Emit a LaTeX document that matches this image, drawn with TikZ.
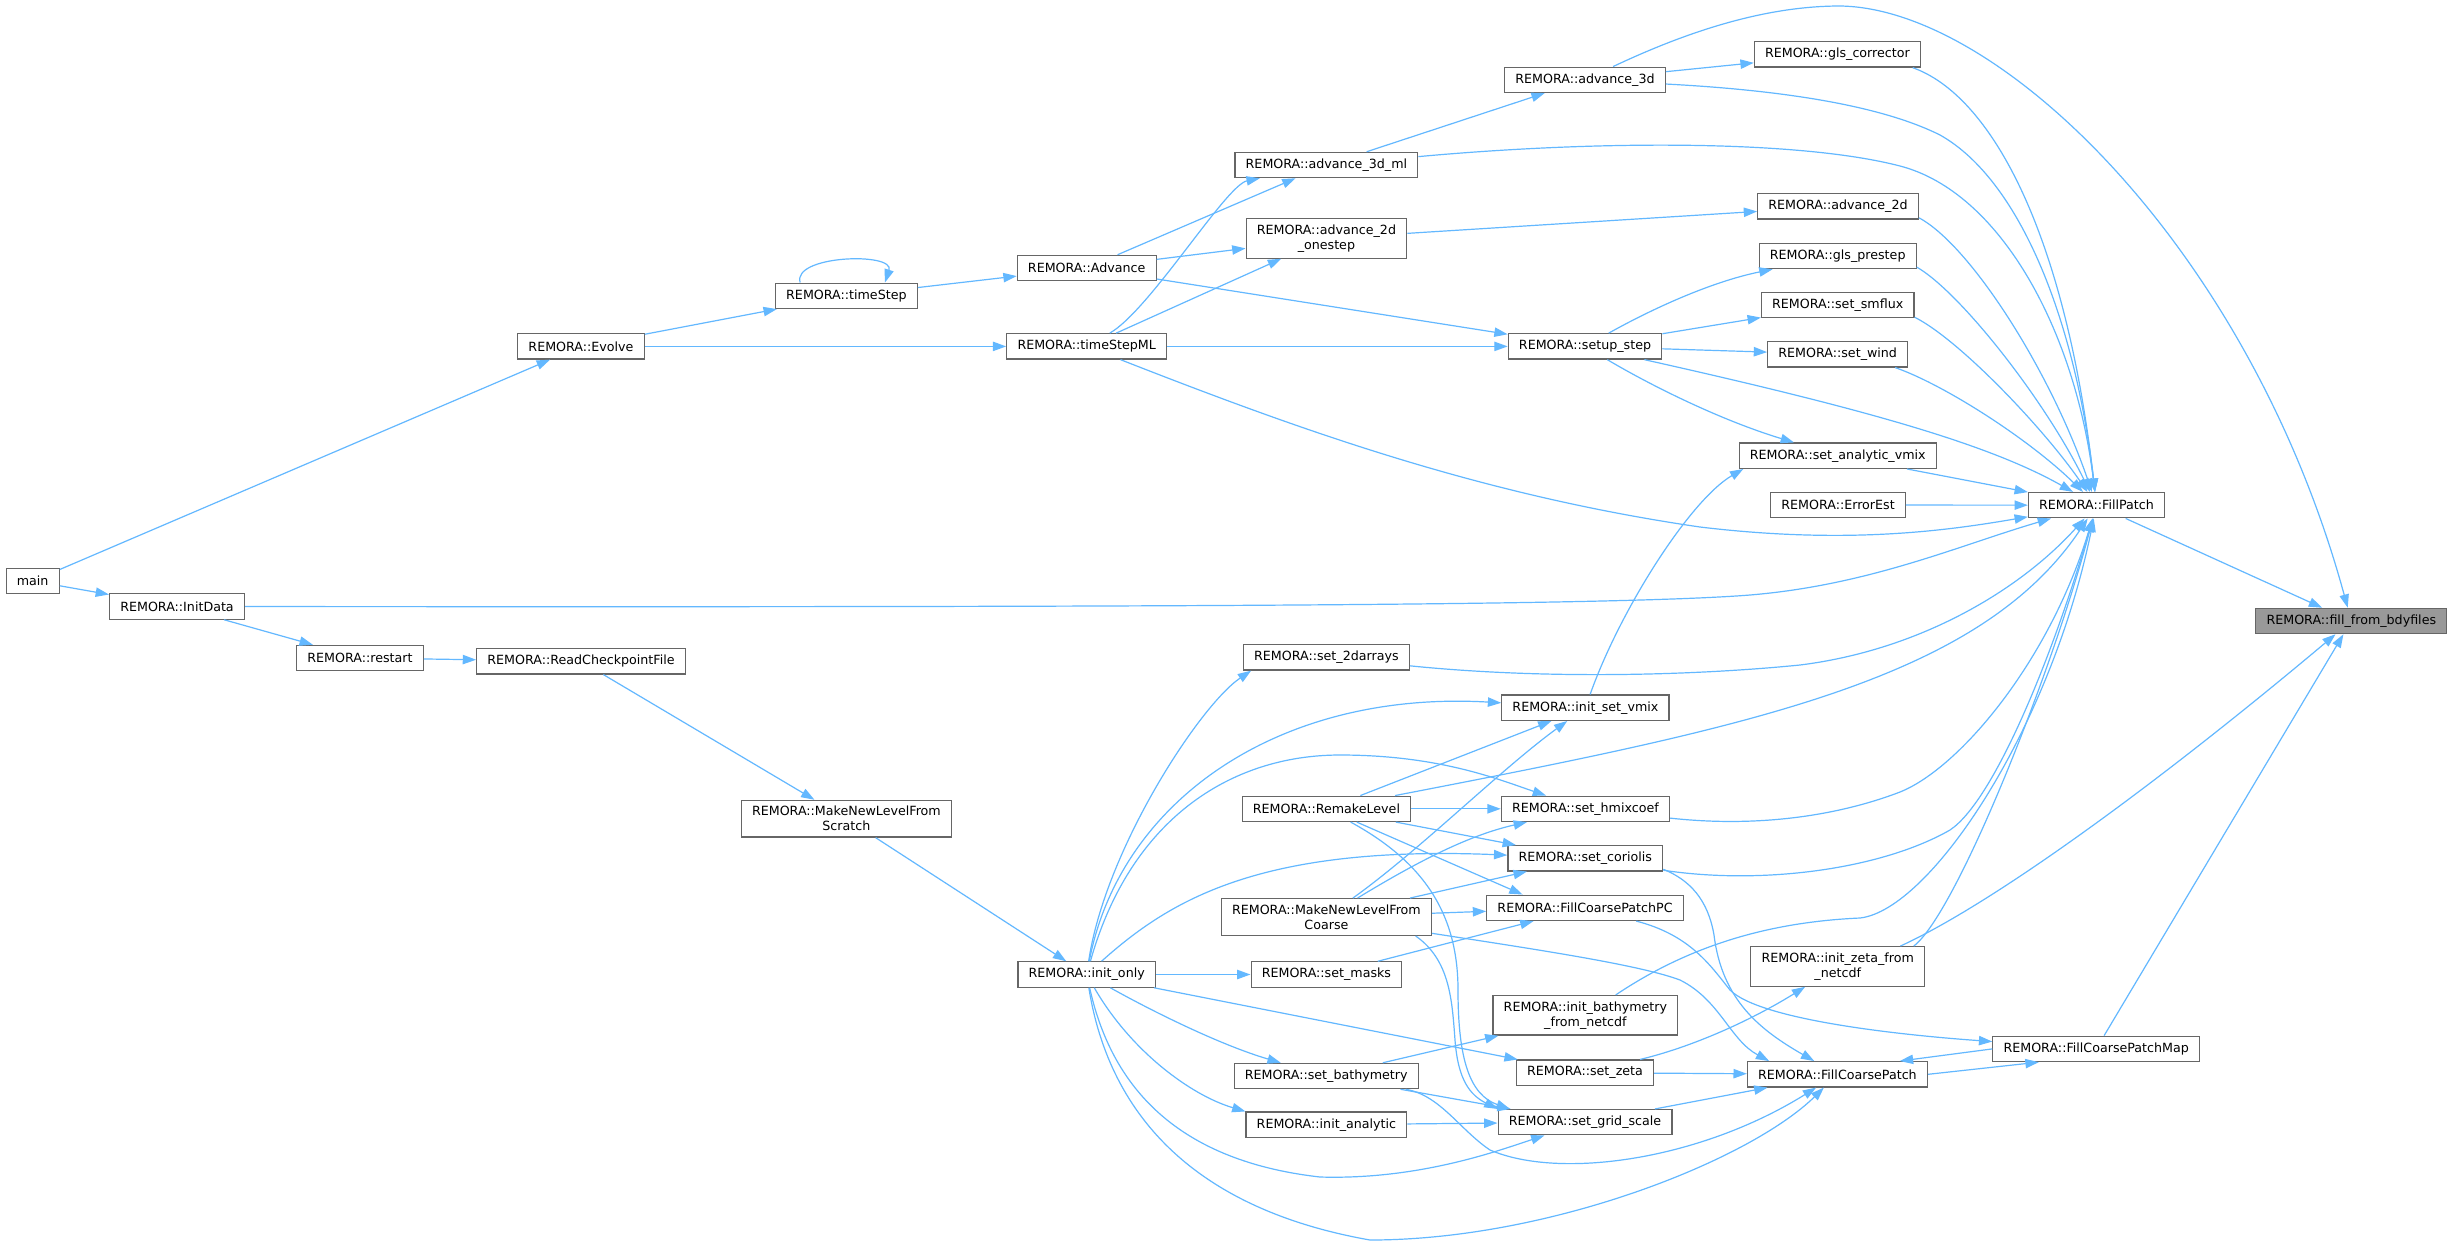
\documentclass[tikz,border=0pt]{standalone}
\usepackage{fontspec}
\setmainfont{DejaVu Sans}
\usetikzlibrary{arrows.meta}
\definecolor{edgeblue}{HTML}{63B8FF}
\definecolor{boxgray}{HTML}{666666}
\definecolor{selgray}{HTML}{999999}
\begin{document}
\begin{tikzpicture}[x=0.75pt, y=-0.75pt,
    fnbox/.style={draw=boxgray, line width=0.9pt, fill=white, align=center,
      font=\fontsize{9.5}{11.2}\selectfont, inner xsep=8pt, inner ysep=4.5pt, minimum height=19pt},
    fnsel/.style={fnbox, fill=selgray},
    callline/.style={draw=edgeblue, line width=0.9pt, -{Triangle[length=10pt,width=7pt]}}]
        \path [fill=white, use as bounding box] (0,0) rectangle (2456,1247);
        \node [fnbox] (main) at (32.7,581) {main};
        \node [fnbox] (initdata) at (177,606.5) {REMORA::InitData};
        \node [fnbox] (restart) at (360,658) {REMORA::restart};
        \node [fnbox] (evolve) at (581,346.4) {REMORA::Evolve};
        \node [fnbox] (readckpt) at (581,661.3) {REMORA::ReadCheckpointFile};
        \node [fnbox] (timestep) at (846.4,295.8) {REMORA::timeStep};
        \node [fnbox] (newscratch) at (846.4,818.7) {REMORA::MakeNewLevelFrom\\Scratch};
        \node [fnbox] (advance) at (1086.7,268) {REMORA::Advance};
        \node [fnbox] (timestepml) at (1086.7,346.4) {REMORA::timeStepML};
        \node [fnbox] (initonly) at (1086.7,974.5) {REMORA::init\_only};
        \node [fnbox] (adv3dml) at (1326.4,165) {REMORA::advance\_3d\_ml};
        \node [fnbox] (adv2dstep) at (1326.4,238.4) {REMORA::advance\_2d\\\_onestep};
        \node [fnbox] (set2d) at (1326.4,657.4) {REMORA::set\_2darrays};
        \node [fnbox] (remake) at (1326.4,808.8) {REMORA::RemakeLevel};
        \node [fnbox] (newcoarse) at (1326.4,917) {REMORA::MakeNewLevelFrom\\Coarse};
        \node [fnbox] (setmasks) at (1326.4,974.5) {REMORA::set\_masks};
        \node [fnbox] (setbathy) at (1326.2,1076) {REMORA::set\_bathymetry};
        \node [fnbox] (initanalytic) at (1326.4,1124.7) {REMORA::init\_analytic};
        \node [fnbox] (adv3d) at (1585,79.8) {REMORA::advance\_3d};
        \node [fnbox] (setup) at (1585,346.4) {REMORA::setup\_step};
        \node [fnbox] (initvmix) at (1585.4,707.7) {REMORA::init\_set\_vmix};
        \node [fnbox] (hmix) at (1585.4,808.8) {REMORA::set\_hmixcoef};
        \node [fnbox] (coriolis) at (1585.3,858.3) {REMORA::set\_coriolis};
        \node [fnbox] (fcppc) at (1585,907.8) {REMORA::FillCoarsePatchPC};
        \node [fnbox] (initbathy) at (1585.4,1015.3) {REMORA::init\_bathymetry\\\_from\_netcdf};
        \node [fnbox] (setzeta) at (1585,1072.7) {REMORA::set\_zeta};
        \node [fnbox] (setgrid) at (1585,1122.2) {REMORA::set\_grid\_scale};
        \node [fnbox] (glscorr) at (1837.4,54.4) {REMORA::gls\_corrector};
        \node [fnbox] (adv2d) at (1838,206.4) {REMORA::advance\_2d};
        \node [fnbox] (glsprestep) at (1837.7,256) {REMORA::gls\_prestep};
        \node [fnbox] (smflux) at (1837.7,305) {REMORA::set\_smflux};
        \node [fnbox] (wind) at (1837.7,354.3) {REMORA::set\_wind};
        \node [fnbox] (avmix) at (1837.7,455.7) {REMORA::set\_analytic\_vmix};
        \node [fnbox] (errorest) at (1838,505) {REMORA::ErrorEst};
        \node [fnbox] (initzeta) at (1837.7,966.4) {REMORA::init\_zeta\_from\\\_netcdf};
        \node [fnbox] (fcp) at (1837.4,1074.3) {REMORA::FillCoarsePatch};
        \node [fnbox] (fillpatch) at (2096.5,505.2) {REMORA::FillPatch};
        \node [fnbox] (fcpmap) at (2096.2,1048.9) {REMORA::FillCoarsePatchMap};
        \node [fnsel] (bdy) at (2351.3,621) {REMORA::fill\_from\_bdyfiles};
        % callers on the left
        \draw [callline] (main) -- (evolve);
        \draw [callline] (main) -- (initdata);
        \draw [callline] (initdata) -- (restart);
        \draw [callline] (restart) -- (readckpt);
        \draw [callline] (readckpt) -- (newscratch);
        \draw [callline] (newscratch) -- (initonly);
        \draw [callline] (evolve) -- (timestep);
        \draw [callline] (evolve) -- (timestepml);
        \draw [callline] (timestep.164) .. controls (792,255) and (895,252) .. (timestep.19);
        \draw [callline] (timestep) -- (advance);
        \draw [callline] (advance) -- (adv3dml);
        \draw [callline] (advance) -- (adv2dstep);
        \draw [callline] (advance) -- (setup);
        \draw [callline] (timestepml) .. controls (1150,310) and (1226,185) .. (adv3dml);
        \draw [callline] (timestepml) -- (adv2dstep);
        \draw [callline] (timestepml) -- (setup);
        \draw [callline] (timestepml) .. controls (1300,430) and (1480,495) .. (1700,527) .. controls (1850,545) and (1950,530) .. (fillpatch);
        \draw [callline] (initdata) .. controls (1000,607) and (1600,607) .. (1750,595) .. controls (1870,585) and (1960,545) .. (fillpatch);
        % upper right
        \draw [callline] (adv3dml) -- (adv3d);
        \draw [callline] (adv3dml) .. controls (1600,140) and (1800,140) .. (1900,166) .. controls (2000,192) and (2075,330) .. (fillpatch);
        \draw [callline] (adv2dstep) -- (adv2d);
        \draw [callline] (adv3d) -- (glscorr);
        \draw [callline] (adv3d) .. controls (1780,90) and (1880,105) .. (1940,135) .. controls (2020,180) and (2075,320) .. (fillpatch);
        \draw [callline] (adv3d) .. controls (1680,35) and (1760,6) .. (1840,6) .. controls (2000,8) and (2250,250) .. (bdy);
        \draw [callline] (glscorr.-10) .. controls (1990,95) and (2065,230) .. (fillpatch);
        \draw [callline] (adv2d.-8) .. controls (1970,245) and (2050,370) .. (fillpatch);
        \draw [callline] (setup) .. controls (1650,310) and (1710,282) .. (glsprestep);
        \draw [callline] (setup) -- (smflux);
        \draw [callline] (setup) -- (wind);
        \draw [callline] (setup) .. controls (1650,385) and (1720,420) .. (avmix);
        \draw [callline] (setup) .. controls (1870,410) and (1990,445) .. (fillpatch);
        \draw [callline] (glsprestep.-8) .. controls (1960,292) and (2045,400) .. (fillpatch);
        \draw [callline] (smflux.-9) .. controls (1960,340) and (2045,430) .. (fillpatch);
        \draw [callline] (wind.-13) .. controls (1945,385) and (2030,440) .. (fillpatch);
        \draw [callline] (avmix) -- (fillpatch);
        \draw [callline] (errorest) -- (fillpatch);
        \draw [callline] (fillpatch) -- (bdy);
        \draw [callline] (initvmix) .. controls (1620,610) and (1690,500) .. (avmix.-172);
        % lower middle
        \draw [callline] (initonly) .. controls (1105,850) and (1200,705) .. (set2d.-170);
        \draw [callline] (initonly) .. controls (1120,800) and (1280,690) .. (initvmix);
        \draw [callline] (initonly) .. controls (1130,820) and (1230,755) .. (1340,755) .. controls (1440,755) and (1500,780) .. (hmix);
        \draw [callline] (initonly) .. controls (1170,900) and (1260,845) .. (coriolis);
        \draw [callline] (initonly) -- (setmasks);
        \draw [callline] (initonly) -- (setzeta);
        \draw [callline] (initonly) .. controls (1150,1010) and (1220,1045) .. (setbathy);
        \draw [callline] (initonly) .. controls (1130,1050) and (1190,1095) .. (initanalytic.north west);
        \draw [callline] (initonly) .. controls (1110,1080) and (1170,1160) .. (1320,1177) .. controls (1420,1180) and (1500,1150) .. (setgrid);
        \draw [callline] (initonly) .. controls (1110,1120) and (1200,1210) .. (1370,1240) .. controls (1550,1240) and (1750,1160) .. (fcp);
        \draw [callline] (set2d) .. controls (1550,680) and (1700,675) .. (1800,665) .. controls (1920,650) and (2020,590) .. (fillpatch);
        \draw [callline] (remake) -- (initvmix);
        \draw [callline] (remake) -- (hmix);
        \draw [callline] (remake) -- (coriolis);
        \draw [callline] (remake) -- (fcppc.168);
        \draw [callline] (remake) .. controls (1420,860) and (1458,910) .. (1458,990) .. controls (1458,1060) and (1470,1095) .. (setgrid.170);
        \draw [callline] (remake) .. controls (1750,727) and (1980,680) .. (fillpatch);
        \draw [callline] (newcoarse) .. controls (1420,850) and (1500,770) .. (initvmix);
        \draw [callline] (newcoarse) .. controls (1420,860) and (1470,835) .. (hmix);
        \draw [callline] (newcoarse) -- (coriolis);
        \draw [callline] (newcoarse) -- (fcppc);
        \draw [callline] (newcoarse.-12) .. controls (1450,960) and (1452,1000) .. (1455,1040) .. controls (1458,1080) and (1470,1095) .. (setgrid.north west);
        \draw [callline] (newcoarse) .. controls (1540,950) and (1640,965) .. (1680,980) .. controls (1720,1000) and (1730,1040) .. (fcp.169);
        \draw [callline] (setmasks) -- (fcppc);
        \draw [callline] (setbathy) -- (initbathy);
        \draw [callline] (setbathy) -- (setgrid);
        \draw [callline] (setbathy) .. controls (1440,1095) and (1460,1130) .. (1490,1150) .. controls (1560,1180) and (1700,1160) .. (fcp);
        \draw [callline] (initanalytic) -- (setgrid);
        % lower right
        \draw [callline] (hmix) .. controls (1760,828) and (1840,815) .. (1900,792) .. controls (1960,768) and (2050,660) .. (fillpatch);
        \draw [callline] (coriolis) .. controls (1760,885) and (1880,870) .. (1950,830) .. controls (1995,800) and (2055,650) .. (fillpatch);
        \draw [callline] (coriolis.-8) .. controls (1690,880) and (1708,900) .. (1714,935) .. controls (1722,1000) and (1760,1030) .. (fcp);
        \draw [callline] (fcppc) .. controls (1690,935) and (1710,965) .. (1730,990) .. controls (1760,1020) and (1900,1035) .. (fcpmap);
        \draw [callline] (initbathy) .. controls (1690,945) and (1770,922) .. (1860,918) .. controls (1930,910) and (2050,730) .. (fillpatch);
        \draw [callline] (setzeta) -- (fcp);
        \draw [callline] (setzeta) .. controls (1700,1045) and (1760,1015) .. (initzeta);
        \draw [callline] (setgrid) -- (fcp);
        \draw [callline] (initzeta.15) .. controls (1955,915) and (2050,680) .. (fillpatch);
        \draw [callline] (initzeta.18) .. controls (1990,905) and (2150,790) .. (bdy);
        \draw [callline] (fcp.east) -- (fcpmap.-167);
        \draw [callline] (fcpmap.west) -- (fcp.12);
        \draw [callline] (fcpmap) -- (bdy);
\end{tikzpicture}
\end{document}
